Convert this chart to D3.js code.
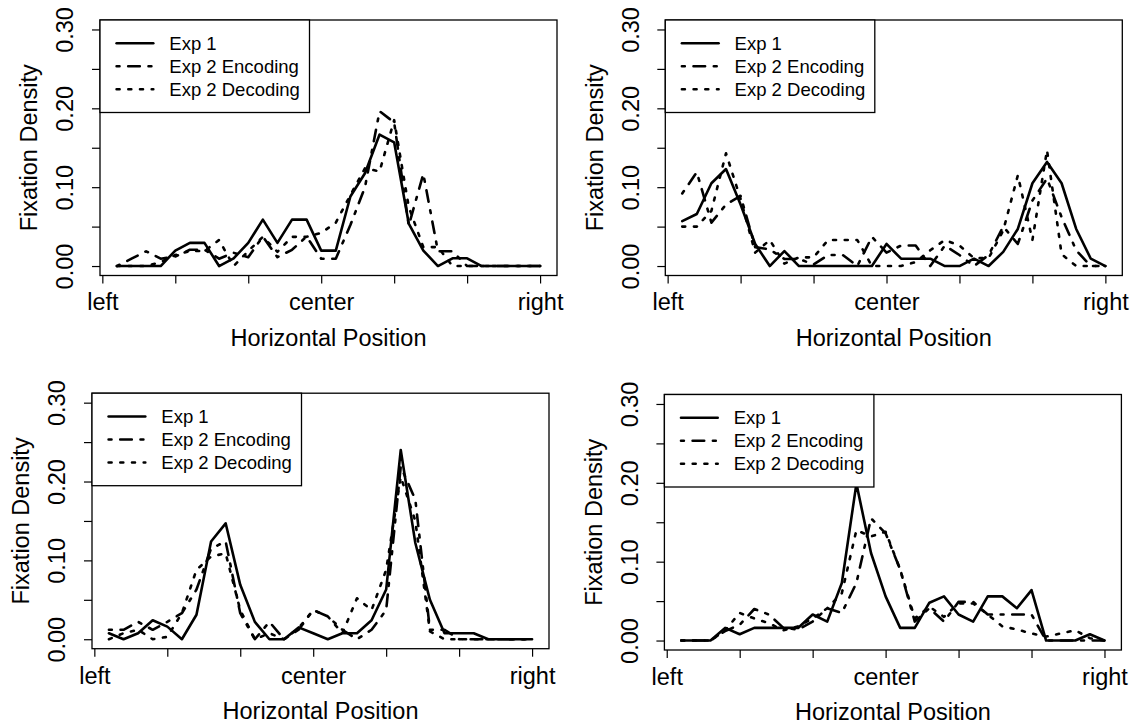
<!DOCTYPE html>
<html>
<head>
<meta charset="utf-8">
<script src="https://cdn.jsdelivr.net/npm/d3@7"></script>
<style>
  body { margin: 0; background: #fff; }
  svg { display: block; font-family: "Liberation Sans", Arial, Helvetica, sans-serif; }
</style>
</head>
<body>
<div id="chart"></div>
<script>
// horizontal bins (1..30), axis ticks and labels
var positions = [1,2,3,4,5,6,7,8,9,10,11,12,13,14,15,16,17,18,19,20,21,22,23,24,25,26,27,28,29,30];
var xTicks = [0, 5, 10, 15, 20, 25, 30];
var xTickText = ["left", "", "", "center", "", "", "right"];
var yTicks = [0, 0.05, 0.10, 0.15, 0.20, 0.25, 0.30];
var yTickText = ["0.00", "", "0.10", "", "0.20", "", "0.30"];
var seriesNames = ["Exp 1", "Exp 2 Encoding", "Exp 2 Decoding"];

// top left panel
var exp1TL = [0,0,0,0,0.0196,0.0294,0.0294,0,0.0098,0.0294,0.0588,0.0294,0.0588,0.0588,0.0196,0.0196,0.0882,0.1176,0.1667,0.1569,0.0539,0.0196,0,0.0098,0.0098,0,0,0,0,0];
var encTL = [0,0.0093,0.0187,0.0093,0.0121,0.0206,0.0206,0.0093,0.0168,0.0112,0.0374,0.0112,0.0206,0.0374,0.0093,0.0093,0.052,0.1,0.1963,0.1822,0.0514,0.1168,0.0187,0.0187,0,0,0,0,0,0];
var decTL = [0,0,0,0.005,0.014,0.019,0.019,0.033,0,0.019,0.037,0.018,0.037,0.037,0.042,0.055,0.09,0.124,0.12,0.185,0.075,0.024,0.024,0,0,0,0,0,0,0];

// top right panel
var exp1TR = [0.057,0.066,0.105,0.123,0.078,0.028,0,0.019,0,0,0,0,0,0,0.028,0.0093,0.0093,0.0093,0,0,0.0093,0,0.018,0.047,0.105,0.132,0.105,0.047,0.0093,0];
var encTR = [0.092,0.119,0.055,0.078,0.089,0.024,0.021,0.009,0.009,0.002,0.014,0.014,0,0.037,0.017,0.026,0.026,0,0.026,0.014,0,0.014,0.05,0.028,0.083,0.111,0.062,0.02,0,0];
var decTR = [0.05,0.05,0.07,0.143,0.085,0.017,0.033,0.003,0.011,0.011,0.033,0.033,0.033,0,0,0,0.005,0.02,0.033,0.026,0.01,0.01,0.045,0.115,0.033,0.147,0.015,0,0,0];

// bottom left panel
var exp1BL = [0.0076,0,0.0076,0.024,0.016,0,0.031,0.124,0.147,0.069,0.022,0,0,0.015,0.0076,0,0.0076,0.0076,0.024,0.063,0.24,0.122,0.05,0.0076,0.0076,0.0076,0,0,0,0];
var encBL = [0.012,0.012,0.022,0.012,0.022,0.033,0.063,0.115,0.124,0.033,0,0.022,0,0.012,0.037,0.029,0.012,0,0.012,0.037,0.219,0.177,0.012,0.012,0,0,0,0,0,0];
var decBL = [0,0.0076,0.012,0,0.003,0.033,0.088,0.105,0.109,0.037,0,0.0076,0,0.014,0.037,0.029,0.0076,0.052,0.037,0.088,0.206,0.15,0.01,0,0,0,0,0,0,0];

// bottom right panel
var exp1BR = [0,0,0,0.016,0.008,0.016,0.016,0.016,0.016,0.033,0.024,0.073,0.199,0.111,0.056,0.016,0.016,0.048,0.056,0.033,0.024,0.056,0.056,0.041,0.064,0,0,0,0.008,0];
var encBR = [0,0,0,0.012,0.02,0.04,0.033,0.016,0.014,0.024,0.041,0.035,0.073,0.155,0.136,0.09,0.024,0.041,0.024,0.049,0.049,0.033,0.033,0.033,0.033,0,0,0,0,0];
var decBR = [0,0,0,0.013,0.035,0.028,0.022,0.013,0.018,0.028,0.041,0.06,0.14,0.132,0.138,0.09,0.028,0.043,0.03,0.047,0.047,0.033,0.018,0.014,0.009,0.005,0.009,0.013,0.003,0];

// page and plot box sizes
var svgWidth = 1134;
var svgHeight = 724;
var boxWidth = 457;
var boxHeight = 255.5;
var lineWidth = 2.6;
var axisFont = 23.5;
var legendFont = 18.5;

// R line types: solid, dotdash ("1343"), dotted ("13")
var dashes = [null, "2.9,8.7,11.6,8.7", "3,8.7"];

var panels = [
  { left: 100, top: 20, series: [exp1TL, encTL, decTL] },
  { left: 665.3, top: 20, series: [exp1TR, encTR, decTR] },
  { left: 92, top: 393.2, series: [exp1BL, encBL, decBL] },
  { left: 664.4, top: 394.5, series: [exp1BR, encBR, decBR] }
];

var svg = d3.select("#chart")
  .append("svg")
  .attr("width", svgWidth)
  .attr("height", svgHeight);

svg.append("rect")
  .attr("width", svgWidth)
  .attr("height", svgHeight)
  .attr("fill", "#fff");

// same scales for every panel, padded like R's default 4%
var xScale = d3.scaleLinear()
  .domain([-0.16, 31.16])
  .range([0, boxWidth]);

var yScale = d3.scaleLinear()
  .domain([-0.012, 0.312])
  .range([boxHeight, 0]);

panels.forEach(function(p) {
  var g = svg.append("g")
    .attr("transform", `translate(${p.left}, ${p.top})`);

  // x axis
  var xAxis = g.append("g")
    .attr("transform", `translate(0, ${boxHeight})`)
    .call(d3.axisBottom(xScale)
      .tickValues(xTicks)
      .tickFormat((d, i) => xTickText[i])
      .tickSize(8)
      .tickSizeOuter(0));
  xAxis.select(".domain").remove();
  xAxis.selectAll("line").attr("stroke", "#000").attr("stroke-width", 1.2);
  xAxis.selectAll("text")
    .attr("y", 26.5)
    .attr("dy", "0.36em")
    .attr("fill", "#000")
    .attr("font-size", axisFont)
    .attr("font-family", "Liberation Sans, Arial, sans-serif");

  // y axis, labels parallel to the axis
  var yAxis = g.append("g")
    .call(d3.axisLeft(yScale)
      .tickValues(yTicks)
      .tickFormat((d, i) => yTickText[i])
      .tickSize(8)
      .tickSizeOuter(0));
  yAxis.select(".domain").remove();
  yAxis.selectAll("line").attr("stroke", "#000").attr("stroke-width", 1.2);
  yAxis.selectAll("text")
    .attr("x", null)
    .attr("dy", "0.36em")
    .attr("text-anchor", "middle")
    .attr("transform", "translate(-35, 0) rotate(-90)")
    .attr("fill", "#000")
    .attr("font-size", axisFont)
    .attr("font-family", "Liberation Sans, Arial, sans-serif");

  // axis titles
  g.append("text")
    .attr("x", boxWidth / 2)
    .attr("y", boxHeight + 62)
    .attr("dy", "0.36em")
    .attr("text-anchor", "middle")
    .attr("font-size", axisFont)
    .text("Horizontal Position");

  g.append("text")
    .attr("transform", `translate(-71, ${boxHeight / 2}) rotate(-90)`)
    .attr("dy", "0.36em")
    .attr("text-anchor", "middle")
    .attr("font-size", axisFont)
    .text("Fixation Density");

  // the three density lines
  var line = d3.line()
    .x((d, i) => xScale(positions[i]))
    .y(d => yScale(d));

  p.series.forEach(function(values, k) {
    g.append("path")
      .datum(values)
      .attr("d", line)
      .attr("fill", "none")
      .attr("stroke", "#000")
      .attr("stroke-width", lineWidth)
      .attr("stroke-linecap", "round")
      .attr("stroke-linejoin", "round")
      .attr("stroke-dasharray", dashes[k]);
  });

  // plot box
  g.append("rect")
    .attr("width", boxWidth)
    .attr("height", boxHeight)
    .attr("fill", "none")
    .attr("stroke", "#000")
    .attr("stroke-width", 1.3);

  // legend in the top left corner
  var legend = g.append("g");
  legend.append("rect")
    .attr("width", 209.5)
    .attr("height", 92.5)
    .attr("fill", "#fff")
    .attr("stroke", "#000")
    .attr("stroke-width", 1.3);

  seriesNames.forEach(function(name, k) {
    var ly = 23.3 + k * 23;
    legend.append("line")
      .attr("x1", 16.6)
      .attr("x2", 53.3)
      .attr("y1", ly)
      .attr("y2", ly)
      .attr("stroke", "#000")
      .attr("stroke-width", lineWidth)
      .attr("stroke-linecap", "round")
      .attr("stroke-dasharray", dashes[k]);
    legend.append("text")
      .attr("x", 69.3)
      .attr("y", ly)
      .attr("dy", "0.36em")
      .attr("font-size", legendFont)
      .text(name);
  });
});
</script>
</body>
</html>
